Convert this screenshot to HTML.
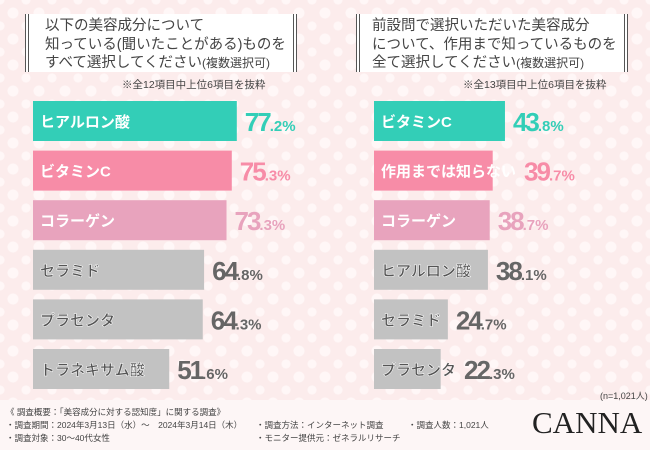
<!DOCTYPE html>
<html><head><meta charset="utf-8">
<style>
body{margin:0;width:650px;height:450px;overflow:hidden;font-family:"Liberation Sans","Noto Sans CJK JP",sans-serif;}
#bg{position:absolute;left:0;top:0;width:650px;height:400px;background-color:#fcecec;
background-image:radial-gradient(circle,#fff7f7 0 5px,transparent 6px),radial-gradient(circle,#fff7f7 0 4px,transparent 5px);
background-size:26px 26px,26px 26px;background-position:0 0,13px 13px;}
#footer{position:absolute;left:0;top:400px;width:650px;height:50px;background:#fdf6f6;}
.title{position:absolute;top:14px;height:58px;background:#fff;border-left:4px double #555;border-right:4px double #555;box-sizing:border-box;font-size:14.5px;line-height:18.5px;color:#444;padding:3px 0 0 16px;}
.note{position:absolute;top:77px;font-size:10.5px;color:#444;}
.ft{position:absolute;font-size:8.5px;color:#444;white-space:nowrap;}
</style></head><body>
<div id="bg"></div>
<div id="footer"></div>
<div class="title" style="left:25px;width:272px;">以下の美容成分について<br>知っている(聞いたことがある)ものを<br>すべて選択してください<span style="font-size:12px">(複数選択可)</span></div>
<div class="title" style="left:356px;width:272px;padding-left:12px;">前設問で選択いただいた美容成分<br>について、作用まで知っているものを<br>全て選択してください<span style="font-size:12px">(複数選択可)</span></div>
<div class="note" style="left:122px">※全12項目中上位6項目を抜粋</div>
<div class="note" style="left:463px">※全13項目中上位6項目を抜粋</div>
<svg id="chart" width="650" height="400" style="position:absolute;left:0;top:0"></svg>
<div class="ft" style="left:600px;top:389px;font-size:9px">(n=1,021人)</div>
<div class="ft" style="left:6px;top:406px">《 調査概要：「美容成分に対する認知度」に関する調査》</div>
<div class="ft" style="left:6px;top:419px">・調査期間：2024年3月13日（水）～　2024年3月14日（木）</div>
<div class="ft" style="left:6px;top:432px">・調査対象：30～40代女性</div>
<div class="ft" style="left:256px;top:419px">・調査方法：インターネット調査</div>
<div class="ft" style="left:256px;top:432px">・モニター提供元：ゼネラルリサーチ</div>
<div class="ft" style="left:408px;top:419px">・調査人数：1,021人</div>
<div class="ft" style="left:532px;top:405px;font-size:31px;font-family:'Liberation Serif',serif;color:#222">CANNA</div>
<script>
const leftCats=["ヒアルロン酸","ビタミンC","コラーゲン","セラミド","プラセンタ","トラネキサム酸"];
const leftVals=[77.2,75.3,73.3,64.8,64.3,51.6];
const rightCats=["ビタミンC","作用までは知らない","コラーゲン","ヒアルロン酸","セラミド","プラセンタ"];
const rightVals=[43.8,39.7,38.7,38.1,24.7,22.3];
const barCols=["#33ceb7","#f78ca7","#e8a3bd","#c2c2c2","#c2c2c2","#c2c2c2"];
const txtCols=["#33ceb7","#f78ca7","#e8a3bd","#666","#666","#666"];
const NS="http://www.w3.org/2000/svg";
const svg=document.getElementById('chart');
function mk(t,a){const e=document.createElementNS(NS,t);for(const k in a)e.setAttribute(k,a[k]);svg.appendChild(e);return e;}
function draw(cats,vals,x0,scale,side){
  const y=i=>101+i*49.6;
  cats.forEach((c,i)=>{
    const w=vals[i]*scale;
    const r=mk('rect',{x:x0,y:y(i),width:w,height:40,fill:barCols[i]});
    
    
    const lab=mk('text',{x:x0+7,y:y(i)+26,'font-size':15,'font-weight':'bold',fill:i<3?'#fff':'#555',stroke:i<3?'none':'#fff','stroke-width':0.5,'font-family':'"Liberation Sans","Noto Sans CJK JP",sans-serif'});
    lab.textContent=c;
    
    
    const labEnd=x0+7+lab.getComputedTextLength();
    const lx=Math.max(x0+w,labEnd)+8;
    const parts=vals[i].toFixed(1).split('.');
    const v=mk('text',{x:lx,y:y(i)+30,fill:txtCols[i],'font-weight':'bold','font-family':'"Liberation Sans Narrow","Liberation Sans",sans-serif'});
    const a=document.createElementNS(NS,'tspan');a.setAttribute('font-size',26);a.setAttribute('letter-spacing',-2);a.textContent=parts[0];v.appendChild(a);
    const b=document.createElementNS(NS,'tspan');b.setAttribute('font-size',15);b.textContent='.'+parts[1]+'%';v.appendChild(b);
    
    
  });
}
draw(leftCats,leftVals,33,2.64,'left');
draw(rightCats,rightVals,374,2.99,'right');
</script>
</body></html>
